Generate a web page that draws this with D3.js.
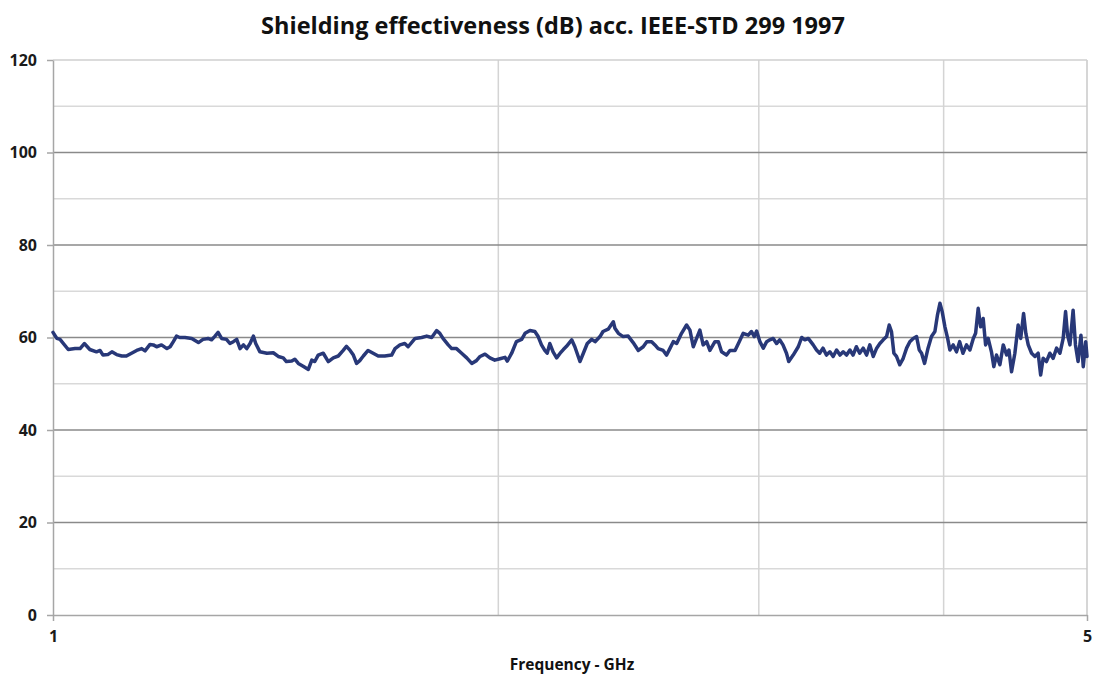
<!DOCTYPE html>
<html>
<head>
<meta charset="utf-8">
<script src="https://cdn.jsdelivr.net/npm/d3@7"></script>
<style>
  html, body { margin: 0; padding: 0; background: #fff; }
  svg { display: block; }
  text { font-family: "Open Sans", "Liberation Sans", sans-serif; }
</style>
</head>
<body>
<svg id="chart" width="1094" height="675"></svg>
<script>
// ---- data ----
const chartTitle = "Shielding effectiveness (dB) acc. IEEE-STD 299 1997";
const xAxisTitle = "Frequency - GHz";
const yMajorTicks = [0, 20, 40, 60, 80, 100, 120];
const yMinorTicks = [10, 30, 50, 70, 90, 110];
const xMajorTicks = [1, 5];
const xMinorTicks = [2, 3, 4];

const freqGHz = [
1.000,1.006,1.011,1.024,1.035,1.043,1.050,1.059,1.070,1.076,1.081,1.089,1.096,1.104,1.113,1.121,1.130,1.139,1.148,1.154,
1.163,1.169,1.175,1.184,1.194,1.200,1.206,1.212,1.218,1.228,1.241,1.254,1.263,1.273,1.280,1.286,1.293,1.300,1.310,1.317,
1.324,1.331,1.338,1.345,1.352,1.359,1.366,1.371,1.380,1.395,1.409,1.420,1.431,1.438,1.450,1.457,1.465,1.476,1.488,1.496,
1.503,1.511,1.523,1.535,1.547,1.559,1.571,1.579,1.588,1.596,1.604,1.612,1.621,1.633,1.646,1.659,1.676,1.694,1.703,1.716,
1.729,1.738,1.757,1.775,1.789,1.803,1.817,1.826,1.835,1.850,1.860,1.874,1.889,1.904,1.919,1.933,1.944,1.959,1.974,1.989,
2.005,2.021,2.028,2.042,2.057,2.074,2.085,2.101,2.117,2.128,2.139,2.150,2.158,2.167,2.178,2.190,2.202,2.213,2.224,2.242,
2.253,2.271,2.283,2.297,2.313,2.325,2.343,2.354,2.373,2.392,2.398,2.411,2.429,2.448,2.467,2.487,2.506,2.520,2.539,2.552,
2.565,2.585,2.599,2.612,2.626,2.640,2.660,2.681,2.695,2.709,2.723,2.737,2.751,2.766,2.780,2.802,2.817,2.831,2.853,2.868,
2.891,2.910,2.928,2.951,2.966,2.979,2.990,3.005,3.021,3.037,3.052,3.068,3.084,3.099,3.115,3.132,3.143,3.165,3.190,3.207,
3.223,3.240,3.265,3.282,3.298,3.315,3.333,3.351,3.368,3.386,3.404,3.421,3.439,3.457,3.474,3.492,3.510,3.529,3.548,3.566,
3.585,3.604,3.622,3.641,3.660,3.675,3.688,3.702,3.717,3.736,3.756,3.776,3.795,3.815,3.835,3.851,3.865,3.883,3.904,3.925,
3.946,3.962,3.977,3.991,4.008,4.025,4.039,4.060,4.081,4.101,4.122,4.145,4.167,4.189,4.204,4.221,4.237,4.254,4.270,4.287,
4.309,4.325,4.343,4.366,4.389,4.412,4.428,4.446,4.469,4.492,4.510,4.530,4.546,4.563,4.587,4.611,4.634,4.652,4.670,4.694,
4.719,4.743,4.769,4.794,4.818,4.836,4.851,4.869,4.893,4.911,4.931,4.953,4.971,4.990,5.000
];

const shieldingDB = [
61.1,59.8,59.6,57.4,57.6,57.6,58.7,57.4,56.9,57.2,56.2,56.3,56.9,56.3,56.0,56.0,56.6,57.2,57.6,57.1,
58.5,58.4,58.0,58.4,57.6,58.0,59.1,60.3,60.0,60.0,59.8,58.9,59.6,59.8,59.5,60.2,61.1,59.8,59.6,58.7,
59.1,59.6,57.6,58.4,57.6,58.7,60.3,58.7,56.9,56.6,56.7,55.9,55.6,54.8,54.9,55.3,54.4,53.8,53.1,55.1,
54.8,56.2,56.6,54.8,55.6,56.0,57.2,58.1,57.2,56.2,54.4,55.0,56.0,57.2,56.6,56.0,56.0,56.2,57.6,58.4,
58.7,58.0,59.8,60.0,60.3,60.0,61.5,60.9,59.8,58.4,57.6,57.6,56.6,55.6,54.4,55.0,55.9,56.4,55.6,55.1,
55.4,55.7,54.9,56.6,59.1,59.6,60.9,61.5,61.3,60.2,58.4,57.2,56.6,58.7,56.9,55.6,56.6,57.4,58.1,59.5,
58.0,54.8,56.6,58.7,59.6,59.1,60.2,61.3,61.8,63.4,62.0,60.9,60.2,60.3,58.9,57.2,58.0,59.1,59.1,58.4,
57.6,57.2,56.2,57.6,59.1,58.7,60.9,62.7,61.6,58.0,59.8,61.6,58.4,59.1,57.2,59.1,59.1,56.9,56.2,57.2,
57.2,59.1,60.9,60.5,61.3,60.2,61.4,59.1,57.7,59.1,59.5,59.8,58.7,59.5,58.4,56.6,54.8,56.2,58.0,60.0,
59.5,59.8,58.4,57.3,56.6,57.7,56.2,56.9,55.9,57.3,56.2,56.9,56.2,57.3,56.2,58.0,56.6,57.7,56.2,58.4,
55.9,57.7,58.7,59.5,60.2,62.7,61.3,56.6,55.9,54.1,55.5,57.7,59.1,59.8,60.2,57.3,56.6,54.4,57.7,60.2,
61.3,64.9,67.4,65.6,62.3,59.8,57.3,58.4,56.9,59.1,56.6,58.4,57.3,59.8,60.9,66.3,62.3,64.1,58.4,59.8,
56.9,53.7,56.2,54.1,58.4,56.2,57.3,52.6,56.6,62.7,59.8,65.2,60.9,58.4,56.6,55.9,56.6,51.9,55.5,54.8,
56.6,55.5,57.7,56.6,59.8,65.6,60.5,58.4,65.9,58.4,54.8,60.5,53.7,59.1,55.9
];

// ---- chart ----
const svg = d3.select("#chart");
const plotLeft = 53, plotRight = 1087, plotTop = 60, plotBottom = 615;

const x = d3.scaleLog().domain([1, 5]).range([plotLeft, plotRight]);
const y = d3.scaleLinear().domain([0, 120]).range([plotBottom, plotTop]);

const grid = svg.append("g");
// minor horizontal gridlines
grid.selectAll("line.ymin").data(yMinorTicks).join("line")
  .attr("x1", plotLeft).attr("x2", plotRight)
  .attr("y1", d => y(d)).attr("y2", d => y(d))
  .attr("stroke", "#d9d9d9").attr("stroke-width", 1.5);
// minor vertical gridlines
grid.selectAll("line.xmin").data(xMinorTicks).join("line")
  .attr("x1", d => x(d)).attr("x2", d => x(d))
  .attr("y1", plotTop).attr("y2", plotBottom)
  .attr("stroke", "#d4d4d4").attr("stroke-width", 1.5);
// right border
grid.append("line")
  .attr("x1", plotRight).attr("x2", plotRight).attr("y1", plotTop).attr("y2", plotBottom)
  .attr("stroke", "#c8c8c8").attr("stroke-width", 1.5);
// major horizontal gridlines
grid.selectAll("line.ymaj").data(yMajorTicks.filter(d => d > 0)).join("line")
  .attr("x1", plotLeft).attr("x2", plotRight)
  .attr("y1", d => y(d)).attr("y2", d => y(d))
  .attr("stroke", d => d === 120 ? "#cfcfcf" : "#8a8a8a").attr("stroke-width", 1.5);

// axes
const yAxis = svg.append("g").attr("transform", `translate(${plotLeft},0)`)
  .call(d3.axisLeft(y).tickValues(yMajorTicks).tickSize(6).tickSizeOuter(0).tickFormat(d3.format("d")));
const xAxis = svg.append("g").attr("transform", `translate(0,${plotBottom})`)
  .call(d3.axisBottom(x).tickValues(xMajorTicks).tickSize(6).tickSizeOuter(0).tickFormat(d3.format("d")));

[yAxis, xAxis].forEach(a => {
  a.select(".domain").attr("stroke", "#a6a6a6").attr("stroke-width", 1.5);
  a.selectAll(".tick line").attr("stroke", "#a6a6a6").attr("stroke-width", 1.5);
  a.selectAll("text").attr("fill", "#1a1a1a")
    .style("font-family", '"Open Sans", sans-serif')
    .style("font-weight", "700").style("font-size", "16px");
});
yAxis.selectAll("text").attr("x", -16);
xAxis.selectAll("text").attr("y", 16);

// data line
const pts = freqGHz.map((f, i) => [f, shieldingDB[i]]);
const line = d3.line().x(d => x(d[0])).y(d => y(d[1]));
svg.append("path").datum(pts)
  .attr("d", line)
  .attr("fill", "none")
  .attr("stroke", "#283878")
  .attr("stroke-width", 3.5)
  .attr("stroke-linejoin", "round")
  .attr("stroke-linecap", "round");

// titles
svg.append("text").attr("x", 553).attr("y", 34)
  .attr("text-anchor", "middle")
  .style("font-weight", "700").style("font-size", "23.5px").attr("fill", "#111")
  .text(chartTitle);
svg.append("text").attr("x", 572).attr("y", 670)
  .attr("text-anchor", "middle")
  .style("font-weight", "700").style("font-size", "15.5px").attr("fill", "#111")
  .text(xAxisTitle);
</script>
</body>
</html>
